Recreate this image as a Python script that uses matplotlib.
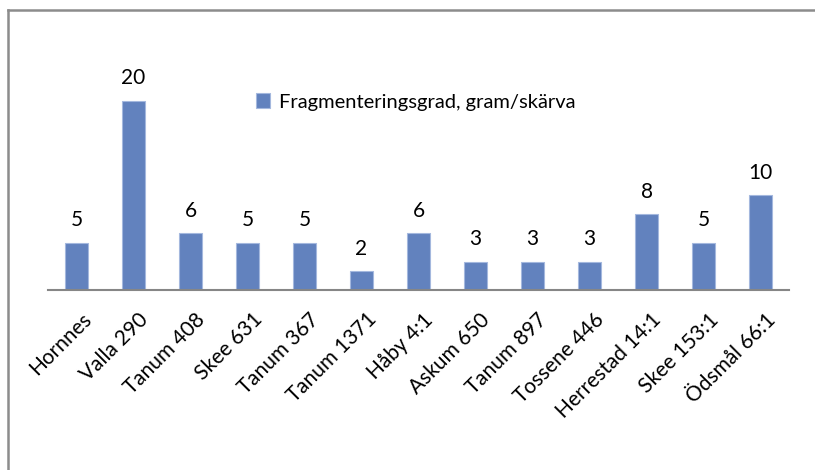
import matplotlib
matplotlib.use("Agg")
import matplotlib.pyplot as plt
import numpy as np
from matplotlib.lines import Line2D

# data
sites = ["Hornnes", "Valla 290", "Tanum 408", "Skee 631", "Tanum 367", "Tanum 1371",
         "Håby 4:1", "Askum 650", "Tanum 897", "Tossene 446", "Herrestad 14:1",
         "Skee 153:1", "Ödsmål 66:1"]
fragm = [5, 20, 6, 5, 5, 2, 6, 3, 3, 3, 8, 5, 10]
series_name = "Fragmenteringsgrad, gram/skärva"

plt.rcParams['font.family'] = ['Lato', 'DejaVu Sans']

W, H = 815, 470
fig = plt.figure(figsize=(W/100, H/100), dpi=100)

# chart frame (only top and left visible in the crop)
frame_c = '#8c8c8c'
fig.add_artist(Line2D([8/W, 1.0], [1-10/H, 1-10/H], color=frame_c, lw=1.8, transform=fig.transFigure))
fig.add_artist(Line2D([8/W, 8/W], [0, 1-10/H], color=frame_c, lw=1.8, transform=fig.transFigure))

ax = fig.add_axes([48/W, (H-290)/H, 741/W, 208/H])

ind = np.arange(len(sites))
bars = ax.bar(ind, fragm, 0.4, color='#6282BE', edgecolor='#A4B8DE', linewidth=0.8,
              label=series_name)

for i, v in enumerate(fragm):
    ax.annotate(str(v), (ind[i], v), xytext=(0, 9), textcoords='offset points',
                ha='center', va='bottom', fontsize=15)

ax.set_xlim(-0.5, len(sites)-0.5)
ax.set_ylim(0, 22)
ax.set_yticks([])
ax.set_xticks(ind + 0.08)
ax.set_xticklabels(sites, rotation=45, ha='right', rotation_mode='anchor', fontsize=15)
ax.tick_params(axis='x', length=0, pad=14)
for s in ['top', 'right', 'left']:
    ax.spines[s].set_visible(False)
ax.spines['bottom'].set_color('#868686')
ax.spines['bottom'].set_linewidth(1.5)
ax.patch.set_alpha(0)

fig.legend(loc='center left', bbox_to_anchor=(256/W, 1-102/H), frameon=False,
           fontsize=14.5, handlelength=0.7, handleheight=0.7, handletextpad=0.45,
           borderaxespad=0, borderpad=0)

plt.savefig('out.png', dpi=100)
